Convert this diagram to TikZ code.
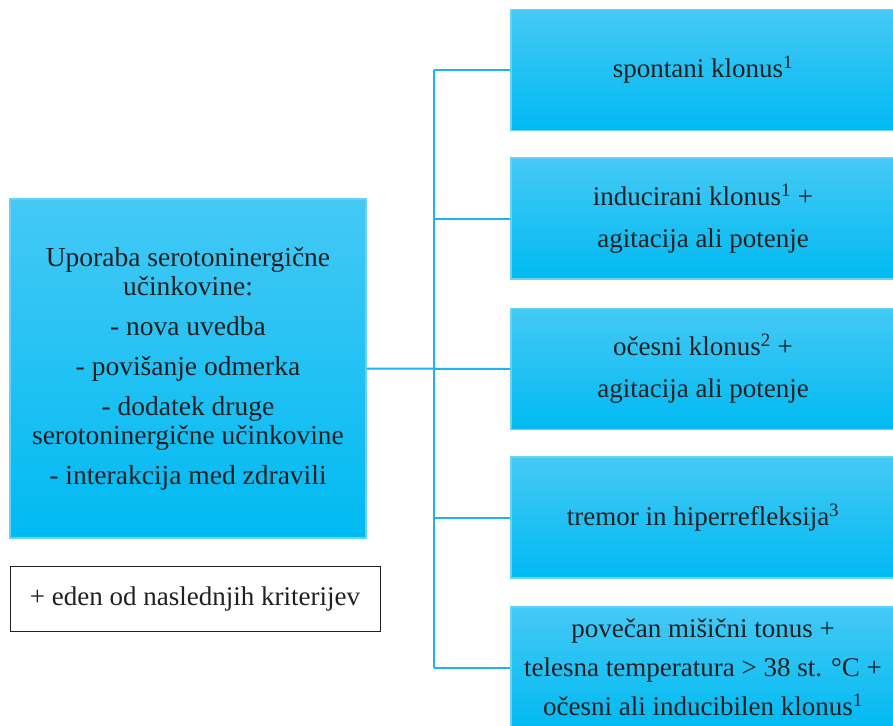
\documentclass[tikz,border=0pt]{standalone}
\usepackage{fontspec}
\setmainfont{LiberationSerif-Regular.ttf}
\newfontfamily\tms{LiberationSerif-Regular.ttf}
\definecolor{boxtop}{HTML}{45C9F5}
\definecolor{boxbot}{HTML}{00BAF2}
\definecolor{boxedge}{HTML}{66D2F7}
\definecolor{wire}{HTML}{1AB5EA}
\definecolor{ink}{HTML}{231F20}
\tikzset{
  bluebox/.style={rectangle, inner sep=0pt, top color=boxtop, bottom color=boxbot,
    draw=boxedge, line width=1.2pt, align=center, text=ink,
    font=\tms\fontsize{27}{40}\selectfont},
  rightbox/.style={bluebox, minimum width=384pt, minimum height=121pt},
  notebox/.style={rectangle, inner sep=0pt, draw=ink, line width=0.8pt, fill=white,
    text=ink, font=\tms\fontsize{27}{32}\selectfont, minimum width=370pt, minimum height=65pt},
  wireline/.style={draw=wire, line width=2pt}
}
\begin{document}
\begin{tikzpicture}[x=1pt,y=-1pt]
\clip (0,0) rectangle (893,725);
\useasboundingbox (0,0) rectangle (893,725);
\fill[white] (0,0) rectangle (893,725);

\node[bluebox, minimum width=356pt, minimum height=339pt,
  font=\tms\fontsize{27.5}{29}\selectfont] (L) at (188,368.5)
  {Uporaba serotoninergične\\ učinkovine:\\[11pt]
   - nova uvedba\\[11pt]
   - povišanje odmerka\\[11pt]
   - dodatek druge\\ serotoninergične učinkovine\\[11pt]
   - interakcija med zdravili};

\node[notebox] (N) at (195,598.5) {+ eden od naslednjih kriterijev};

\node[rightbox] (R1) at (703,70) {spontani klonus\textsuperscript{1}};
\node[rightbox, font=\tms\fontsize{27}{42}\selectfont] (R2) at (703,218.5) {inducirani klonus\textsuperscript{1} +\\ agitacija ali potenje};
\node[rightbox, font=\tms\fontsize{27}{42}\selectfont] (R3) at (703,369) {očesni klonus\textsuperscript{2} +\\ agitacija ali potenje};
\node[rightbox] (R4) at (703,517.5) {tremor in hiperrefleksija\textsuperscript{3}};
\node[rightbox, font=\tms\fontsize{27}{39}\selectfont] (R5) at (703,667.5) {povečan mišični tonus +\\ telesna temperatura > 38 st. °C +\\ očesni ali inducibilen klonus\textsuperscript{1}};

\coordinate (bus) at (434,368);
\draw[wireline] (L.east) -- (R3.west);
\foreach \i in {1,...,5}{
  \draw[wireline] (R\i.west -| bus) -- (R\i.west);
}
\draw[wireline] (R1.west -| bus) -- (R5.west -| bus);
\end{tikzpicture}
\end{document}
